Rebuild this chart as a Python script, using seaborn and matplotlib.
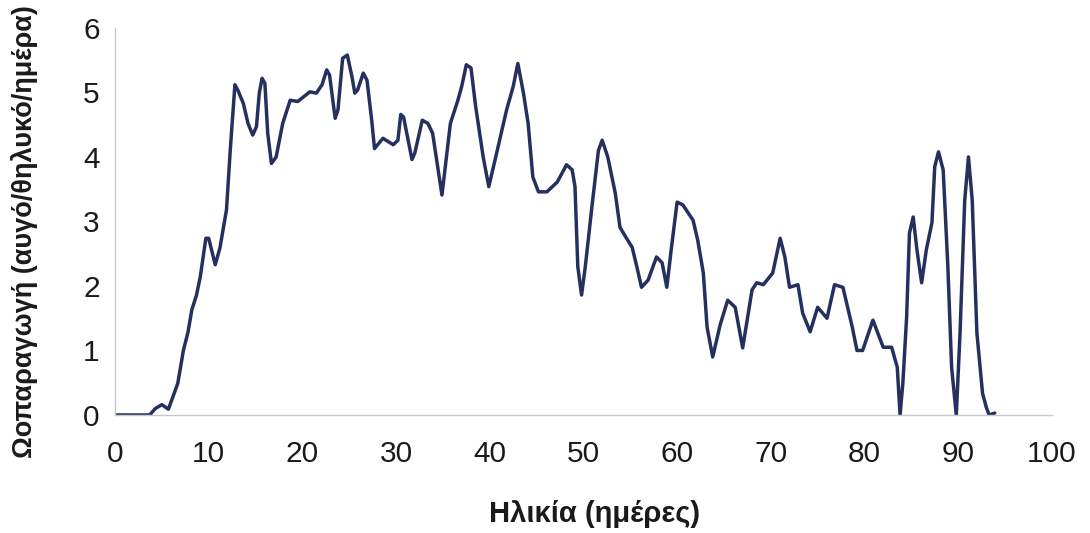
import matplotlib
matplotlib.use("Agg")
import matplotlib.pyplot as plt
import seaborn as sns
import pandas as pd

# Daily egg production per female against age
age_days = [
    0, 3.7, 4.3, 5.0, 5.7, 6.7, 7.3, 7.8, 8.2, 8.7, 9.1, 9.7, 10.0, 10.7, 11.2,
    11.9, 12.3, 12.8, 13.1, 13.7, 14.2, 14.7, 15.1, 15.4, 15.7, 16.0, 16.3, 16.7,
    17.2, 17.9, 18.7, 19.5, 20.1, 20.8, 21.5, 22.1, 22.6, 22.9, 23.5, 23.8, 24.3,
    24.8, 25.3, 25.6, 25.9, 26.5, 26.9, 27.4, 27.7, 28.6, 29.7, 30.2, 30.5, 30.8,
    31.7, 32.0, 32.8, 33.4, 33.9, 34.5, 34.9, 35.8, 36.6, 37.0, 37.5, 38.0, 38.5,
    39.3, 39.9, 40.8, 41.8, 42.5, 43.0, 43.6, 44.1, 44.6, 45.2, 46.1, 47.2, 48.2,
    48.8, 49.1, 49.4, 49.8, 50.2, 50.9, 51.6, 52.0, 52.6, 53.4, 53.9, 54.6, 55.2,
    55.7, 56.2, 56.9, 57.8, 58.4, 58.9, 59.4, 60.0, 60.6, 61.7, 62.2, 62.8, 63.2,
    63.8, 64.6, 65.4, 66.2, 67.0, 68.0, 68.5, 69.2, 70.2, 71.0, 71.5, 72.0, 72.9,
    73.4, 74.2, 75.0, 76.0, 76.8, 77.7, 78.7, 79.2, 79.8, 80.9, 82.0, 82.9, 83.5,
    83.8, 84.1, 84.5, 84.8, 85.2, 85.6, 86.1, 86.6, 87.2, 87.5, 87.9, 88.4, 88.9,
    89.3, 89.8, 90.2, 90.7, 91.1, 91.5, 92.0, 92.6, 93.0, 93.3, 93.9,
]
eggs_per_female = [
    0, 0, 0.10, 0.16, 0.09, 0.49, 1.00, 1.29, 1.63, 1.86, 2.14, 2.74, 2.74, 2.33, 2.59,
    3.18, 4.10, 5.12, 5.04, 4.83, 4.52, 4.34, 4.47, 4.99, 5.22, 5.14, 4.37, 3.90,
    4.00, 4.52, 4.88, 4.86, 4.93, 5.01, 4.99, 5.12, 5.35, 5.27, 4.60, 4.73, 5.53,
    5.58, 5.24, 4.99, 5.04, 5.30, 5.19, 4.57, 4.13, 4.29, 4.19, 4.26, 4.66, 4.62,
    3.96, 4.06, 4.57, 4.52, 4.37, 3.80, 3.41, 4.52, 4.88, 5.09, 5.43, 5.38, 4.78,
    4.00, 3.54, 4.10, 4.73, 5.09, 5.45, 4.99, 4.52, 3.69, 3.46, 3.46, 3.61, 3.88,
    3.80, 3.54, 2.30, 1.86, 2.30, 3.22, 4.10, 4.26, 4.00, 3.44, 2.91, 2.74, 2.60,
    2.30, 1.98, 2.09, 2.45, 2.36, 1.98, 2.60, 3.30, 3.26, 3.02, 2.71, 2.20, 1.36,
    0.90, 1.40, 1.78, 1.67, 1.04, 1.94, 2.05, 2.02, 2.20, 2.74, 2.45, 1.98, 2.02,
    1.58, 1.29, 1.67, 1.50, 2.02, 1.98, 1.36, 1.00, 1.00, 1.47, 1.05, 1.05, 0.74,
    0.00, 0.50, 1.52, 2.82, 3.07, 2.56, 2.05, 2.56, 2.98, 3.85, 4.08, 3.80, 2.30,
    0.74, 0.00, 1.27, 3.33, 4.00, 3.33, 1.27, 0.34, 0.12, 0.00, 0.03,
]
x_ticks = [0, 10, 20, 30, 40, 50, 60, 70, 80, 90, 100]
y_ticks = [0, 1, 2, 3, 4, 5, 6]

sns.set_theme(style="white")
plt.rcParams["font.family"] = ["Liberation Sans", "DejaVu Sans"]

df = pd.DataFrame({"age": age_days, "eggs": eggs_per_female})

fig = plt.figure(figsize=(10.9, 5.33), dpi=100)
ax = fig.add_axes([0.1055, 0.2214, 0.8595, 0.7261])

sns.lineplot(data=df, x="age", y="eggs", ax=ax, color="#25305e",
             linewidth=2.5, sort=False, estimator=None)
ax.lines[0].set_solid_joinstyle("round")
ax.lines[0].set_solid_capstyle("round")

ax.set_xlim(0, 100)
ax.set_ylim(0, 6)
ax.set_xticks(x_ticks)
ax.set_yticks(y_ticks)

for side in ("top", "right"):
    ax.spines[side].set_visible(False)
for side in ("left", "bottom"):
    ax.spines[side].set_color("#c8c8c8")
    ax.spines[side].set_linewidth(1.0)

ax.tick_params(axis="both", which="major", direction="out", length=4,
               width=1.0, color="#c8c8c8", labelsize=21.5, labelcolor="#1a1a1a")
ax.tick_params(axis="x", pad=14)
ax.tick_params(axis="y", pad=7)

ax.set_xlabel("Ηλικία (ημέρες)", fontsize=21, fontweight="bold", color="#1a1a1a")
ax.set_ylabel("Ωοπαραγωγή (αυγό/θηλυκό/ημέρα)", fontsize=19.5, fontweight="bold",
              color="#1a1a1a")
ax.xaxis.set_label_coords(0.512, -0.256)
ax.xaxis.label.set_verticalalignment("center")
ax.yaxis.set_label_coords(-0.097, 0.473)
ax.yaxis.label.set_verticalalignment("center")

fig.savefig("out.png", dpi=100, facecolor="white")
